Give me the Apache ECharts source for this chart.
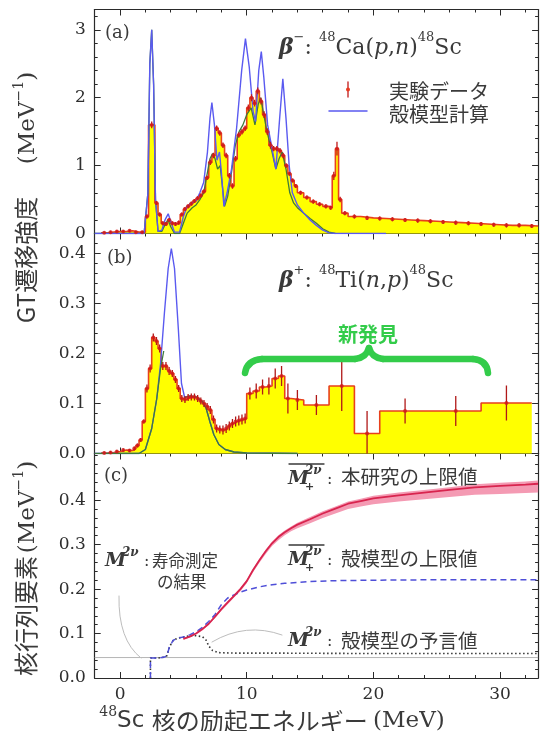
<!DOCTYPE html>
<html><head><meta charset="utf-8">
<script src="https://cdn.jsdelivr.net/npm/echarts@6/dist/echarts.min.js"></script>
<style>html,body{margin:0;padding:0;background:#fff}#c{width:540px;height:731px}</style>
</head><body><div id="c"></div>
<script>
// ---------- tick labels ----------
const xTickLabels = [0, 10, 20, 30];
const xMinorTicks = [-2,0,2,4,6,8,10,12,14,16,18,20,22,24,26,28,30,32];
const aTickLabels = [0, 1, 2, 3];
const aMinorTicks = [0,0.2,0.4,0.6,0.8,1,1.2,1.4,1.6,1.8,2,2.2,2.4,2.6,2.8,3,3.2];
const bTickLabels = [0, 0.1, 0.2, 0.3, 0.4];
const bMinorTicks = [0,0.02,0.04,0.06,0.08,0.1,0.12,0.14,0.16,0.18,0.2,0.22,0.24,0.26,0.28,0.3,0.32,0.34,0.36,0.38,0.4,0.42];
const cTickLabels = [0, 0.1, 0.2, 0.3, 0.4];
const cMinorTicks = [0,0.02,0.04,0.06,0.08,0.1,0.12,0.14,0.16,0.18,0.2,0.22,0.24,0.26,0.28,0.3,0.32,0.34,0.36,0.38,0.4,0.42,0.44,0.46,0.48,0.5];

// ---------- panel (a): 48Ca(p,n) experimental histogram ----------
const aEdges = [-1.5,-1.0,-0.5,0.0,0.5,1.0,1.5,2.0,2.25,2.75,3.0,3.25,3.5,3.75,4.0,4.25,4.5,4.75,5.0,5.25,5.5,5.75,6.0,6.25,6.5,6.75,7.0,7.25,7.5,7.75,8.0,8.25,8.5,8.75,9.0,9.25,9.5,9.75,10.0,10.25,10.5,10.75,11.0,11.25,11.5,11.75,12.0,12.25,12.5,12.75,13.0,13.25,13.5,13.75,14.0,14.5,15.0,15.5,16.0,16.5,16.75,17.0,17.25,17.5,18.0,19.0,20.0,21.0,22.0,23.0,24.0,25.0,26.0,27.0,28.0,29.0,30.0,31.0,32.0,33.0];
const aValues = [0.01,0.02,0.03,0.03,0.04,0.02,0.02,0.25,1.6,0.45,0.28,0.15,0.14,0.2,0.15,0.14,0.16,0.28,0.36,0.4,0.44,0.48,0.52,0.56,0.62,0.82,1.05,1.15,1.55,1.48,1.3,1.15,0.85,0.7,1.1,1.45,1.5,1.55,1.85,2.0,1.92,2.1,1.95,1.75,1.5,1.3,1.25,1.25,1.22,1.15,1.0,0.88,0.78,0.7,0.6,0.53,0.47,0.43,0.4,0.38,0.85,1.25,0.5,0.3,0.25,0.23,0.22,0.21,0.2,0.19,0.18,0.17,0.16,0.15,0.14,0.13,0.12,0.12,0.11];
const aErrors = [0.02,0.02,0.02,0.02,0.02,0.02,0.02,0.03,0.05,0.03,0.03,0.03,0.03,0.03,0.03,0.03,0.03,0.03,0.03,0.03,0.03,0.03,0.03,0.03,0.03,0.03,0.04,0.04,0.04,0.04,0.04,0.04,0.04,0.04,0.04,0.04,0.04,0.04,0.05,0.05,0.05,0.05,0.05,0.05,0.05,0.05,0.04,0.04,0.04,0.04,0.03,0.03,0.03,0.03,0.03,0.03,0.03,0.03,0.03,0.03,0.06,0.1,0.04,0.03,0.03,0.03,0.03,0.03,0.03,0.03,0.03,0.03,0.03,0.03,0.03,0.03,0.03,0.03,0.03];
// shell-model calculation (blue) and second calculation curve (green)
const aShellBlue = [[-2,0],[1.9,0],[2.2,0.6],[2.35,2.5],[2.5,3.0],[2.65,2.2],[2.8,0.5],[3.0,0.03],[3.3,0.05],[3.55,0.2],[3.8,0.29],[4.05,0.15],[4.3,0.02],[4.7,0.02],[5.0,0.25],[5.3,0.4],[5.7,0.45],[6.0,0.48],[6.3,0.6],[6.6,0.75],[6.9,1.2],[7.1,1.7],[7.25,1.93],[7.45,1.6],[7.65,1.08],[7.85,1.2],[8.0,0.9],[8.2,0.4],[8.45,0.6],[8.8,0.95],[9.2,1.55],[9.6,2.4],[9.9,2.87],[10.2,2.45],[10.5,1.8],[10.7,1.65],[10.95,2.4],[11.15,2.68],[11.35,2.3],[11.65,1.6],[12.0,1.25],[12.3,0.95],[12.6,1.7],[12.85,2.28],[13.1,1.7],[13.35,1.0],[13.6,0.6],[14.0,0.42],[14.5,0.3],[15.0,0.2],[15.5,0.12],[16.0,0.05],[16.5,0.01],[17,0],[21,0]];
const aShellGreen = [[-2,0],[1.9,0],[2.2,0.6],[2.35,2.5],[2.5,3.0],[2.65,2.2],[2.8,0.5],[3.0,0.03],[3.3,0.03],[3.6,0.15],[3.8,0.2],[4.0,0.1],[4.3,0.0],[4.7,0.0],[5.0,0.15],[5.3,0.3],[5.7,0.38],[6.0,0.42],[6.3,0.5],[6.6,0.6],[6.9,0.9],[7.1,1.1],[7.3,1.18],[7.5,1.1],[7.7,0.95],[7.9,1.0],[8.05,0.75],[8.25,0.4],[8.5,0.55],[8.8,0.9],[9.1,1.3],[9.4,1.5],[9.7,1.6],[10.0,1.75],[10.35,1.85],[10.65,1.6],[10.9,1.9],[11.1,2.0],[11.3,1.8],[11.6,1.5],[12.0,1.2],[12.3,0.95],[12.55,1.1],[12.8,1.2],[13.1,0.95],[13.4,0.6],[13.7,0.45],[14.0,0.38],[14.5,0.3],[15.0,0.22],[15.5,0.15],[16.0,0.07],[16.5,0.02],[17,0]];

// ---------- panel (b): 48Ti(n,p) ----------
const bEdges = [-1.5,-1.0,-0.5,0.0,0.5,1.0,1.25,1.5,1.75,2.0,2.25,2.5,2.75,3.0,3.25,3.5,3.75,4.0,4.25,4.5,4.75,5.0,5.25,5.5,5.75,6.0,6.25,6.5,6.75,7.0,7.25,7.5,7.75,8.0,8.25,8.5,8.75,9.0,9.25,9.5,9.75,10.0,10.5,11.0,11.5,12.0,12.5,13.0,13.5,14.5,16.5,18.5,20.5,24.5,28.5,32.5];
const bValues = [0.001,0.002,0.004,0.007,0.006,0.01,0.016,0.027,0.064,0.13,0.17,0.232,0.225,0.21,0.175,0.175,0.165,0.16,0.148,0.13,0.11,0.108,0.112,0.113,0.113,0.11,0.105,0.1,0.094,0.087,0.068,0.05,0.048,0.047,0.05,0.055,0.06,0.064,0.066,0.068,0.07,0.12,0.125,0.133,0.135,0.15,0.155,0.11,0.107,0.097,0.135,0.04,0.085,0.085,0.101];
const bErrors = [0.003,0.003,0.003,0.003,0.003,0.004,0.004,0.004,0.004,0.008,0.008,0.008,0.008,0.008,0.008,0.008,0.008,0.007,0.007,0.007,0.007,0.007,0.007,0.007,0.007,0.007,0.007,0.007,0.007,0.008,0.008,0.008,0.008,0.009,0.009,0.009,0.009,0.01,0.01,0.01,0.01,0.012,0.015,0.015,0.017,0.02,0.02,0.03,0.02,0.02,0.05,0.045,0.025,0.03,0.035];
const bShellBlue = [[-2,0],[1.5,0],[2.0,0.008],[2.5,0.05],[2.9,0.11],[3.2,0.18],[3.5,0.28],[3.8,0.37],[4.05,0.41],[4.3,0.37],[4.6,0.25],[4.85,0.14],[5.1,0.112],[5.5,0.115],[6.0,0.113],[6.5,0.104],[6.8,0.09],[7.1,0.063],[7.4,0.038],[7.8,0.018],[8.3,0.008],[9.0,0.003],[10.0,0.001],[14.0,0]];
const bShellGreen = [[-2,0],[1.5,0],[2.0,0.008],[2.5,0.05],[2.9,0.11],[3.2,0.17],[3.45,0.205],[3.45,'-'],[5.1,'-'],[5.1,0.112],[5.5,0.115],[6.0,0.113],[6.5,0.104],[6.8,0.09],[7.1,0.063],[7.4,0.038],[7.8,0.018],[8.3,0.008],[9.0,0.003],[10.0,0.001],[14.0,0]];

// ---------- panel (c): running sums of matrix elements ----------
const cLifetimeValue = 0.046;
const cShellUpper = [[2.4,0],[2.4,0.045],[3.0,0.045],[3.5,0.047],[3.7,0.05],[3.9,0.07],[4.2,0.085],[4.6,0.09],[5.0,0.092],[5.5,0.097],[6.0,0.104],[6.5,0.114],[7.0,0.127],[7.5,0.143],[8.0,0.165],[8.5,0.18],[9.0,0.187],[9.5,0.193],[10.0,0.198],[11.0,0.205],[12.0,0.21],[13.0,0.213],[14.0,0.215],[15.0,0.217],[17.0,0.219],[20.0,0.22],[25.0,0.221],[33.0,0.221]];
const cShellPred = [[2.4,0],[2.4,0.045],[3.0,0.045],[3.5,0.047],[3.7,0.05],[3.9,0.07],[4.2,0.085],[4.6,0.09],[5.0,0.092],[5.5,0.095],[6.0,0.095],[6.5,0.093],[6.8,0.085],[7.0,0.072],[7.3,0.062],[7.8,0.057],[9.0,0.056],[12.0,0.056],[20.0,0.055],[33.0,0.055]];
const cEnergy  = [5.0,5.5,6.0,6.5,7.0,7.5,8.0,8.5,9.0,9.5,10.0,10.5,11.0,11.5,12.0,12.5,13.0,13.5,14.0,15.0,16.0,17.0,18.0,19.0,20.0,22.0,24.0,26.0,28.0,30.0,32.0,33.0];
const cThisWork = [0.088,0.093,0.1,0.11,0.122,0.138,0.155,0.17,0.185,0.2,0.218,0.243,0.265,0.285,0.303,0.317,0.328,0.337,0.345,0.357,0.37,0.381,0.392,0.398,0.404,0.411,0.417,0.423,0.429,0.432,0.435,0.437];
const cBandBelow = [0.002,0.002,0.002,0.003,0.003,0.003,0.004,0.004,0.004,0.005,0.005,0.005,0.006,0.006,0.006,0.007,0.007,0.007,0.008,0.009,0.01,0.011,0.012,0.012,0.013,0.014,0.015,0.016,0.017,0.018,0.019,0.02];
const cBandAbove = [0.002,0.002,0.002,0.002,0.002,0.002,0.003,0.003,0.003,0.003,0.003,0.003,0.003,0.004,0.004,0.004,0.004,0.004,0.004,0.005,0.005,0.005,0.005,0.005,0.006,0.006,0.006,0.006,0.007,0.007,0.007,0.007];

// ---------- layout ----------
const LEFT = 94.7, WIDTH = 443.4, XMIN = -2, XMAX = 33;
const grids = [
  {left: LEFT, width: WIDTH, top: 9.5, height: 224},
  {left: LEFT, width: WIDTH, top: 233.5, height: 220},
  {left: LEFT, width: WIDTH, top: 453.5, height: 224.5}
];
const yRanges = [[0, 3.3], [0, 0.44], [0, 0.505]];
const yMajor = [aTickLabels, bTickLabels, cTickLabels];
const yMinor = [aMinorTicks, bMinorTicks, cMinorTicks];
const AX = '#2a2a2a';
const tickFont = {fontFamily: 'DejaVu Serif', fontSize: 17, color: '#2e2e2e'};

const xAxes = [], yAxes = [];
for (let g = 0; g < 3; g++) {
  [['bottom', xTickLabels, 6, true], ['bottom', xMinorTicks, 3, false], ['top', xTickLabels, 6, true], ['top', xMinorTicks, 3, false]].forEach(([pos, vals, len, line], k) => {
    xAxes.push({
      gridIndex: g, type: 'value', min: XMIN, max: XMAX, position: pos,
      axisLine: {show: line, onZero: false, lineStyle: {color: AX, width: 1.2}},
      axisTick: {show: true, inside: true, length: len, customValues: vals, lineStyle: {color: AX, width: 1}},
      axisLabel: Object.assign({show: g === 2 && pos === 'bottom' && k === 0, customValues: vals, margin: 8}, tickFont),
      splitLine: {show: false}
    });
  });
  [['left', yMajor[g], 6, true], ['left', yMinor[g], 3, false], ['right', yMajor[g], 6, true], ['right', yMinor[g], 3, false]].forEach(([pos, vals, len, line], k) => {
    yAxes.push({
      gridIndex: g, type: 'value', min: yRanges[g][0], max: yRanges[g][1], position: pos,
      axisLine: {show: line, onZero: false, lineStyle: {color: AX, width: 1.2}},
      axisTick: {show: true, inside: true, length: len, customValues: vals, lineStyle: {color: AX, width: 1}},
      axisLabel: Object.assign({show: pos === 'left' && k === 0, customValues: vals, margin: 9,
        formatter: v => g === 0 ? String(Math.round(v)) : v.toFixed(1)}, tickFont),
      splitLine: {show: false}
    });
  });
}

// ---------- series builders ----------
function histPoints(edges, values) {
  const pts = values.map((v, i) => [edges[i], v]);
  pts.push([edges[edges.length - 1], values[values.length - 1]]);
  return pts;
}
function centers(edges, values, errs) {
  return values.map((v, i) => [(edges[i] + edges[i + 1]) / 2, v, errs[i]]);
}
function histSeries(g, edges, values, errs, barColor) {
  const ax = g * 4;
  return [
    {type: 'line', xAxisIndex: ax, yAxisIndex: ax, step: 'end', symbol: 'none', z: 1,
     data: histPoints(edges, values), lineStyle: {color: '#e8401c', width: 1.6},
     areaStyle: {color: '#ffff00', opacity: 1}},
    {type: 'custom', xAxisIndex: ax, yAxisIndex: ax, z: 5, clip: true,
     data: centers(edges, values, errs), encode: {x: 0, y: 1},
     renderItem: (params, api) => {
       const x = api.value(0), y = api.value(1), e = api.value(2);
       const p1 = api.coord([x, y - e]), p2 = api.coord([x, y + e]);
       return {type: 'line', shape: {x1: p1[0], y1: p1[1], x2: p2[0], y2: p2[1]},
               style: {stroke: barColor, lineWidth: 1.3}};
     }},
    {type: 'scatter', xAxisIndex: ax, yAxisIndex: ax, z: 6, symbol: 'circle', symbolSize: 4,
     data: centers(edges, values, errs).map(p => [p[0], p[1]]),
     itemStyle: {color: '#d21a1a'}}
  ];
}
function curve(g, data, color, width, z, extra) {
  return Object.assign({type: 'line', xAxisIndex: g * 4, yAxisIndex: g * 4, symbol: 'none', z: z,
    data: data, connectNulls: false, lineStyle: {color: color, width: width}}, extra || {});
}

const series = [];
series.push(...histSeries(0, aEdges, aValues, aErrors, '#c01818'));
series.push(curve(0, aShellGreen, '#3f7a3a', 1.3, 2));
series.push(curve(0, aShellBlue, '#5a5af0', 1.4, 3));
series.push(...histSeries(1, bEdges, bValues, bErrors, '#b01818'));
series.push(curve(1, bShellBlue, '#5a5af0', 1.4, 3));
series.push(curve(1, bShellGreen, '#3f7a3a', 1.3, 4));

// panel c
series.push(curve(2, [[XMIN, cLifetimeValue], [XMAX, cLifetimeValue]], '#b5b5b5', 1, 1));
series.push({type: 'custom', xAxisIndex: 8, yAxisIndex: 8, z: 2, clip: true,
  data: [[cEnergy[0], cThisWork[0]]], encode: {x: 0, y: 1},
  renderItem: (params, api) => {
    const pts = [];
    for (let i = 0; i < cEnergy.length; i++) pts.push(api.coord([cEnergy[i], cThisWork[i] + cBandAbove[i]]));
    for (let i = cEnergy.length - 1; i >= 0; i--) pts.push(api.coord([cEnergy[i], cThisWork[i] - cBandBelow[i]]));
    return {type: 'polygon', shape: {points: pts}, style: {fill: '#f49ab3'}};
  }});
series.push(curve(2, cShellPred, '#333', 1.6, 3, {lineStyle: {color: '#333', width: 1.6, type: [1.5, 2.5]}}));
series.push(curve(2, cShellUpper, '#4f4fd8', 1.5, 4, {lineStyle: {color: '#4f4fd8', width: 1.5, type: [6, 4]}}));
series.push(curve(2, cEnergy.map((e, i) => [e, cThisWork[i]]), '#d8244e', 1.8, 5));

// ---------- annotations ----------
const SERIF = '"DejaVu Serif"';
const CJK = '"Noto Sans CJK JP"';
const TXT = '#3a3a3a';
function txt(x, y, text, font, extra) {
  return Object.assign({type: 'text', x: x, y: y, z: 100,
    style: Object.assign({text: text, font: font, fill: TXT, textAlign: 'left', textVerticalAlign: 'middle',
      align: 'left', verticalAlign: 'middle'}, (extra && extra.style) || {})}, extra && extra.el || {});
}
function seg(x1, y1, x2, y2, stroke, w) {
  return {type: 'line', z: 100, shape: {x1, y1, x2, y2}, style: {stroke: stroke, lineWidth: w, lineCap: 'round'}};
}
function quad(x1, y1, cx, cy, x2, y2, stroke, w, z) {
  return {type: 'bezierCurve', z: z || 100, shape: {x1, y1, x2, y2, cpx1: cx, cpy1: cy},
    style: {stroke: stroke, lineWidth: w, fill: null, lineCap: 'round'}};
}
function mathM(x, y, bar) {
  const els = [
    txt(x, y, 'M', 'italic bold 19px ' + SERIF),
    txt(x + 17, y - 8, '2ν', 'italic bold 12px ' + SERIF)
  ];
  if (bar) {
    els.push(txt(x + 17, y + 8, '+', 'bold 11px ' + SERIF));
    els.push(seg(x + 1, y - 15, x + 36, y - 15, TXT, 1.3));
  }
  els.push(txt(x + 39, y + 1, ':', '16px ' + SERIF));
  return els;
}
const richBase = {
  n: {fontFamily: 'DejaVu Serif', fontSize: 22, lineHeight: 28, verticalAlign: 'bottom', fill: TXT, color: TXT},
  bi: {fontFamily: 'DejaVu Serif', fontSize: 22, fontWeight: 'bold', fontStyle: 'italic', lineHeight: 28, verticalAlign: 'bottom', fill: TXT, color: TXT},
  i: {fontFamily: 'DejaVu Serif', fontSize: 22, fontStyle: 'italic', lineHeight: 28, verticalAlign: 'bottom', fill: TXT, color: TXT},
  sup: {fontFamily: 'DejaVu Serif', fontSize: 13, lineHeight: 15, verticalAlign: 'top', fill: TXT, color: TXT},
  cjk: {fontFamily: 'Noto Sans CJK JP', fontSize: 24, lineHeight: 28, verticalAlign: 'bottom', fill: TXT, color: TXT},
  sans: {fontFamily: 'DejaVu Sans', fontSize: 23, lineHeight: 28, verticalAlign: 'bottom', fill: TXT, color: TXT},
  nl: {fontFamily: 'DejaVu Serif', fontSize: 23, lineHeight: 28, verticalAlign: 'bottom', fill: TXT, color: TXT},
  supl: {fontFamily: 'DejaVu Serif', fontSize: 14, lineHeight: 16, verticalAlign: 'top', fill: TXT, color: TXT}
};
function richTxt(x, y, text, rot, align) {
  return {type: 'text', x: x, y: y, z: 100, rotation: rot || 0,
    style: {text: text, rich: richBase, textAlign: align || 'left', textVerticalAlign: 'middle',
      align: align || 'left', verticalAlign: 'middle', fill: TXT}};
}
const GREEN = '#33cc4a';

const graphic = [
  txt(105, 33, '(a)', '18px ' + SERIF),
  txt(107, 258, '(b)', '18px ' + SERIF),
  txt(104, 476, '(c)', '18px ' + SERIF),
  richTxt(279, 45, '{bi|β}{sup|−}{n|: }{sup|48}{n|Ca(}{i|p}{n|,}{i|n}{n|)}{sup|48}{n|Sc}'),
  richTxt(279, 278, '{bi|β}{sup|+}{n|: }{sup|48}{n|Ti(}{i|n}{n|,}{i|p}{n|)}{sup|48}{n|Sc}'),
  // legend
  seg(348, 82, 348, 97, '#c01818', 1.3),
  {type: 'circle', z: 100, shape: {cx: 348, cy: 89.5, r: 2}, style: {fill: '#e83a20'}},
  seg(329, 111, 367, 111, '#5a5af0', 1.5),
  txt(389, 91, '実験データ', '20px ' + CJK),
  txt(389, 114, '殻模型計算', '20px ' + CJK),
  // new discovery brace
  txt(368, 334, '新発見', 'bold 20px ' + CJK, {style: {fill: GREEN, textAlign: 'center', align: 'center'}}),
  quad(245, 373, 247, 360, 262, 359, GREEN, 6.5),
  seg(262, 359, 355, 359, GREEN, 6.5),
  quad(355, 359, 366, 358, 369, 348, GREEN, 6.5),
  quad(369, 348, 372, 358, 383, 359, GREEN, 6.5),
  seg(383, 359, 473, 359, GREEN, 6.5),
  quad(473, 359, 487, 360, 488, 373, GREEN, 6.5),
  // panel c labels
  ...mathM(288, 479, true),
  txt(341, 477, '本研究の上限値', '19.5px ' + CJK),
  ...mathM(288, 560, true),
  txt(341, 559, '殻模型の上限値', '19.5px ' + CJK),
  ...mathM(105, 561, false),
  txt(152, 561, '寿命測定', '16.5px ' + CJK),
  txt(157, 582, 'の結果', '16.5px ' + CJK),
  ...mathM(288, 641, false),
  txt(341, 641, '殻模型の予言値', '19.5px ' + CJK),
  // leaders
  quad(119, 596, 118, 640, 141, 658, '#bdbdbd', 1, 90),
  quad(282, 635, 246, 622, 212, 642, '#bdbdbd', 1, 90),
  // axis titles
  richTxt(26, 118, '{nl|(MeV}{supl|−1}{nl|)}', Math.PI / 2, 'center'),
  txt(26, 260, 'GT遷移強度', '24px ' + CJK, {el: {rotation: Math.PI / 2}, style: {textAlign: 'center', align: 'center'}}),
  richTxt(26, 507, '{nl|(MeV}{supl|−1}{nl|)}', Math.PI / 2, 'center'),
  txt(26, 616, '核行列要素', '24px ' + CJK, {el: {rotation: Math.PI / 2}, style: {textAlign: 'center', align: 'center'}}),
  richTxt(272, 719, '{supl|48}{sans|Sc }{cjk|核の励起エネルギー }{nl|(MeV)}', 0, 'center')
];

const chart = echarts.init(document.getElementById('c'), null, {renderer: 'canvas'});
chart.setOption({
  animation: false,
  backgroundColor: '#fff',
  grid: grids,
  xAxis: xAxes,
  yAxis: yAxes,
  series: series,
  graphic: graphic
});
</script>
</body></html>
